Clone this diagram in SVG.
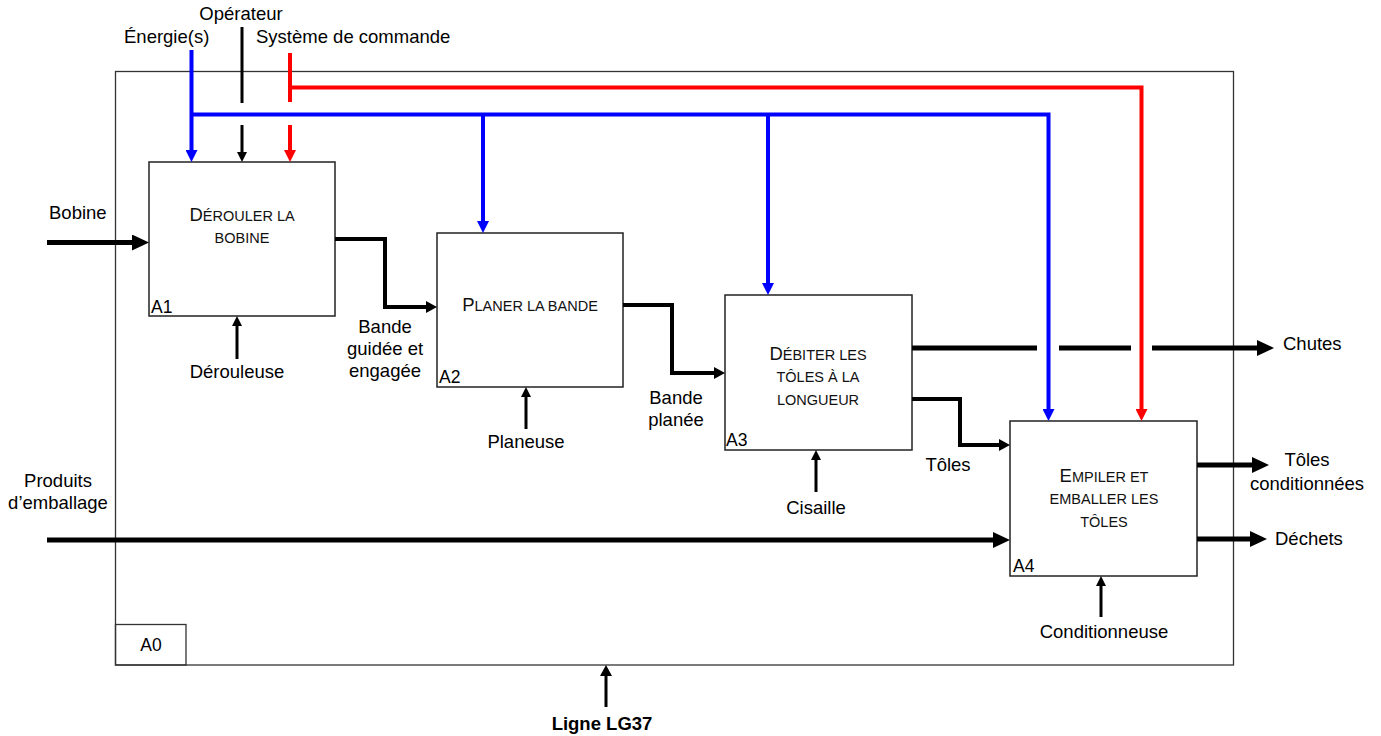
<svg xmlns="http://www.w3.org/2000/svg" width="1381" height="736" viewBox="0 0 1381 736">
  <style>
    .frame { fill: none; stroke: #333; stroke-width: 1.3; }
    .box { fill: #fff; stroke: #222; stroke-width: 1.5; }
    .lbl { font-family: "Liberation Sans", Arial, sans-serif; font-size: 18.5px; fill: #000; }
    .mid { text-anchor: middle; }
    .title { font-family: "Liberation Sans", Arial, sans-serif; font-size: 14.5px; fill: #111; text-anchor: middle; }
    .cap { font-size: 18.5px; }
    .num { font-family: "Liberation Sans", Arial, sans-serif; font-size: 17.5px; fill: #000; }
    .flow { fill: none; stroke: #000; stroke-width: 5; }
    .link { fill: none; stroke: #000; stroke-width: 4; }
    .mech { fill: none; stroke: #000; stroke-width: 3; }
    .energy { fill: none; stroke: #0000ff; stroke-width: 4; }
    .control { fill: none; stroke: #ff0000; stroke-width: 4; }
  </style>
  <defs>
    <marker id="ah-big" markerUnits="userSpaceOnUse" markerWidth="17" markerHeight="16" refX="0" refY="8" orient="auto">
      <path d="M0,0 L17,8 L0,16 z" fill="#000"/>
    </marker>
    <marker id="ah-mid" markerUnits="userSpaceOnUse" markerWidth="11" markerHeight="12" refX="0" refY="6" orient="auto">
      <path d="M0,0 L11,6 L0,12 z" fill="#000"/>
    </marker>
    <marker id="ah-sm" markerUnits="userSpaceOnUse" markerWidth="10" markerHeight="10" refX="0" refY="5" orient="auto">
      <path d="M0,0 L10,5 L0,10 z" fill="#000"/>
    </marker>
    <marker id="ah-blue" markerUnits="userSpaceOnUse" markerWidth="12" markerHeight="12" refX="0" refY="6" orient="auto">
      <path d="M0,0 L12,6 L0,12 z" fill="#0000ff"/>
    </marker>
    <marker id="ah-red" markerUnits="userSpaceOnUse" markerWidth="12" markerHeight="12" refX="0" refY="6" orient="auto">
      <path d="M0,0 L12,6 L0,12 z" fill="#ff0000"/>
    </marker>
  </defs>

  <rect width="1381" height="736" fill="#fff"/>

  <!-- A0 context frame -->
  <g id="frame-a0">
    <rect class="frame" x="115.5" y="71.5" width="1118" height="593.5"/>
    <rect class="frame" x="115.5" y="624.5" width="70.5" height="40.5"/>
    <text class="num mid" x="151" y="651">A0</text>
  </g>

  <!-- activity boxes -->
  <g id="node-a1">
    <rect class="box" x="149" y="162" width="186" height="154"/>
    <text class="title" x="242" y="221"><tspan class="cap">D</tspan>ÉROULER LA</text>
    <text class="title" x="242" y="243">BOBINE</text>
    <text class="num" x="151" y="313">A1</text>
  </g>
  <g id="node-a2">
    <rect class="box" x="437" y="233" width="186" height="154"/>
    <text class="title" x="530" y="311"><tspan class="cap">P</tspan>LANER LA BANDE</text>
    <text class="num" x="439" y="383">A2</text>
  </g>
  <g id="node-a3">
    <rect class="box" x="725" y="295" width="187" height="155"/>
    <text class="title" x="818" y="360"><tspan class="cap">D</tspan>ÉBITER LES</text>
    <text class="title" x="818" y="382">TÔLES À LA</text>
    <text class="title" x="818" y="405">LONGUEUR</text>
    <text class="num" x="726" y="446">A3</text>
  </g>
  <g id="node-a4">
    <rect class="box" x="1010" y="421" width="187" height="155"/>
    <text class="title" x="1104" y="482"><tspan class="cap">E</tspan>MPILER ET</text>
    <text class="title" x="1104" y="504">EMBALLER LES</text>
    <text class="title" x="1104" y="527">TÔLES</text>
    <text class="num" x="1013" y="572">A4</text>
  </g>

  <!-- connectors -->
  <g id="connectors">
    <!-- energy (blue) -->
    <path class="energy" d="M191.5,50 V150" marker-end="url(#ah-blue)"/>
    <path class="energy" d="M191.5,114.5 H1048.5 V409" marker-end="url(#ah-blue)"/>
    <path class="energy" d="M483,114.5 V221" marker-end="url(#ah-blue)"/>
    <path class="energy" d="M768,114.5 V283" marker-end="url(#ah-blue)"/>

    <!-- control system (red), hopping over the energy line -->
    <path class="control" d="M290,53 V102"/>
    <path class="control" d="M290,87.5 H1141.5 V409" marker-end="url(#ah-red)"/>
    <path class="control" d="M290,125 V150" marker-end="url(#ah-red)"/>

    <!-- operator (black), hopping over the energy line -->
    <path class="mech" d="M242,27 V103"/>
    <path class="mech" d="M242,125 V152" marker-end="url(#ah-sm)"/>

    <!-- inputs -->
    <path class="flow" d="M47,242.5 H132" marker-end="url(#ah-big)"/>
    <path class="flow" d="M47,540 H993" marker-end="url(#ah-big)"/>

    <!-- box-to-box flows -->
    <path class="link" d="M335,239 H385 V307 H426" marker-end="url(#ah-mid)"/>
    <path class="link" d="M623,305 H672 V373 H714" marker-end="url(#ah-mid)"/>
    <path class="link" d="M912,399 H960 V445 H999" marker-end="url(#ah-mid)"/>

    <!-- outputs -->
    <path class="flow" d="M912,348 H1037 M1059,348 H1131 M1152,348 H1257" marker-end="url(#ah-big)"/>
    <path class="flow" d="M1197,465 H1252" marker-end="url(#ah-big)"/>
    <path class="flow" d="M1197,539 H1250" marker-end="url(#ah-big)"/>

    <!-- mechanisms -->
    <path class="mech" d="M237,359 V326" marker-end="url(#ah-sm)"/>
    <path class="mech" d="M526,429 V397" marker-end="url(#ah-sm)"/>
    <path class="mech" d="M816,492 V460" marker-end="url(#ah-sm)"/>
    <path class="mech" d="M1101,617 V586" marker-end="url(#ah-sm)"/>
    <path class="mech" d="M606,707 V676" marker-end="url(#ah-mid)"/>
  </g>

  <!-- connector labels -->
  <g id="labels">
    <text class="lbl mid" x="241" y="20">Opérateur</text>
    <text class="lbl" x="124" y="43">Énergie(s)</text>
    <text class="lbl" x="256" y="43">Système de commande</text>
    <text class="lbl" x="49" y="219">Bobine</text>
    <text class="lbl mid" x="58" y="487">Produits</text>
    <text class="lbl mid" x="58" y="509">d’emballage</text>
    <text class="lbl mid" x="237" y="378">Dérouleuse</text>
    <text class="lbl mid" x="385" y="333">Bande</text>
    <text class="lbl mid" x="385" y="355">guidée et</text>
    <text class="lbl mid" x="385" y="377">engagée</text>
    <text class="lbl mid" x="526" y="448">Planeuse</text>
    <text class="lbl mid" x="676" y="404">Bande</text>
    <text class="lbl mid" x="676" y="426">planée</text>
    <text class="lbl mid" x="816" y="514">Cisaille</text>
    <text class="lbl mid" x="948" y="471">Tôles</text>
    <text class="lbl" x="1283" y="350">Chutes</text>
    <text class="lbl mid" x="1307" y="466">Tôles</text>
    <text class="lbl mid" x="1307" y="490">conditionnées</text>
    <text class="lbl" x="1275" y="545">Déchets</text>
    <text class="lbl mid" x="1104" y="638">Conditionneuse</text>
    <text class="lbl mid" x="602" y="730" font-weight="bold">Ligne LG37</text>
  </g>
</svg>
